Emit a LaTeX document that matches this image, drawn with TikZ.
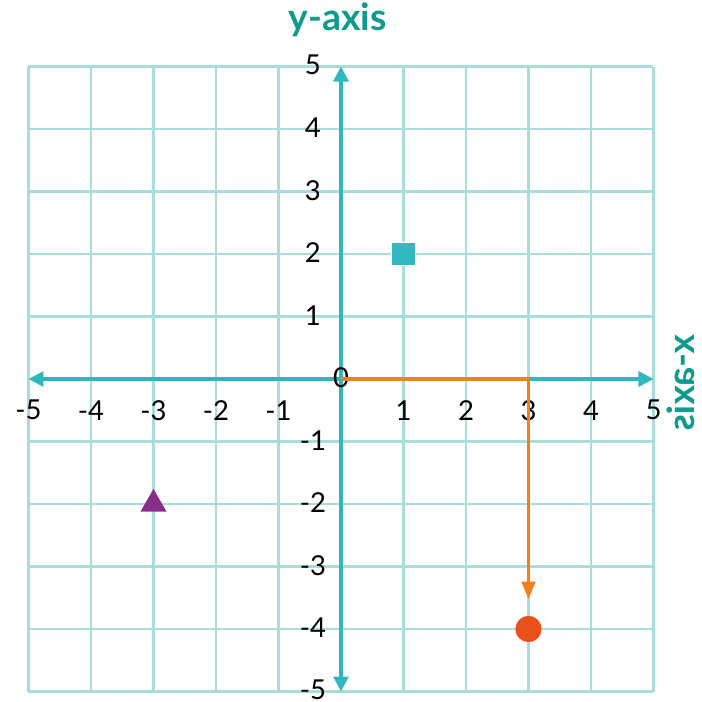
\documentclass[tikz,border=0pt]{standalone}
\usepackage{fontspec}
\setmainfont{Lato}
\usepackage{tikz}
\usetikzlibrary{arrows.meta,positioning,shapes.geometric}
\usepackage{xcolor}
\definecolor{gdGrid}{HTML}{A9DDDC}
\definecolor{gdAxis}{HTML}{2EB7BC}
\definecolor{gdTitle}{HTML}{0F9A8E}
\definecolor{gdSquare}{HTML}{33B8BF}
\definecolor{gdTri}{HTML}{8A2E8B}
\definecolor{gdDot}{HTML}{E9501B}
\definecolor{gdPath}{HTML}{F3801E}
\tikzset{
  gridln/.style={draw=gdGrid, line width=1.3pt},
  axisln/.style={draw=gdAxis, line width=1.4pt, {Triangle[length=0.24cm,width=0.24cm]}-{Triangle[length=0.24cm,width=0.24cm]}},
  axttl/.style={font=\fontsize{17}{20}\selectfont\bfseries, text=gdTitle, inner sep=0pt},
  tick/.style={font=\fontsize{12.5}{15}\selectfont, text=black, inner sep=0pt},
  movearr/.style={draw=gdPath, line width=1.4pt, -{Triangle[length=0.28cm,width=0.22cm]}},
}

\begin{document}
\begin{tikzpicture}[x=1cm,y=1cm]
        \useasboundingbox (-5.456,-5.168) rectangle (5.776,6.064);
        % grid
        \foreach \k in {-5,...,5} {
            \draw[gridln] (\k,-5) -- (\k,5);
            \draw[gridln] (-5,\k) -- (5,\k);
        }
        % axes
        \draw[axisln] (-5,0) -- (5,0);
        \draw[axisln] (0,-5) -- (0,5);
        \node[axttl] (ytitle) at (-0.05,5.75) {y-axis};
        \node[axttl, rotate=90, xscale=-1, anchor=base] (xtitle) at (5.65,-0.06) {x-axis};
        % tick labels
        \foreach \k in {-5,...,-1,1,2,...,5} {
            \node[tick] (xl\k) at (\k,-0.5) {\k};
            \node[tick] (yl\k) at (-0.45,\k+0.02) {\k};
        }
        \node[tick] (zero) at (0,0.02) {0};
        % shapes
        \node[fill=gdSquare, draw=white, line width=0.4pt, minimum size=0.38cm, inner sep=0pt] (sq) at (1,2) {};
        \node[fill=gdTri, isosceles triangle, isosceles triangle apex angle=60, shape border rotate=90, minimum height=0.36cm, inner sep=0pt] (tri) at (-3,-2) {};
        \node[fill=gdDot, circle, minimum size=0.42cm, inner sep=0pt] (dot) at (3,-4) {};
        % path
        \coordinate (start) at (0,0);
        \coordinate (turn) at (3,0);
        \coordinate (stop) at (3,-3.52);
        \draw[movearr] (start) -- (turn) -- (stop);
    \end{tikzpicture}
\end{document}
